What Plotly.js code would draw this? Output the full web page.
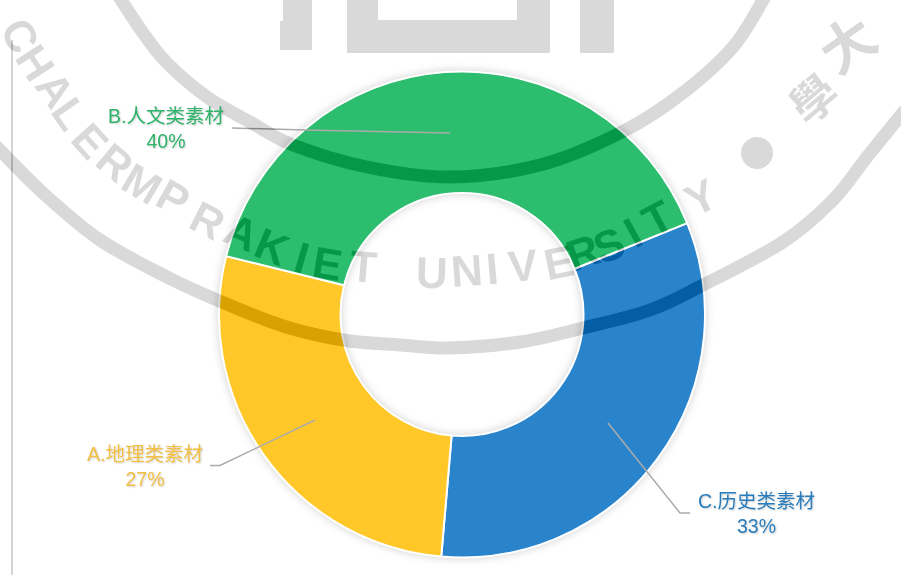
<!DOCTYPE html>
<html>
<head>
<meta charset="utf-8">
<script src="https://cdn.plot.ly/plotly-3.0.1.min.js"></script>
<style>
  html, body { margin: 0; padding: 0; background: #fff; }
  #myDiv { width: 901px; height: 575px; }
  .pielayer { filter: drop-shadow(0 0 4px rgba(0,0,0,0.18)); }
</style>
</head>
<body>
<div id="myDiv"></div>
<script>
var categories = ['C.历史类素材', 'A.地理类素材', 'B.人文类素材'];
var sliceValues = [32.5, 27.5, 40.0];
var percentLabels = ['33%', '27%', '40%'];
var sliceColors = ['#2A84CB', '#FFC727', '#2DBD6E'];
var textColors = ['#2A7DBD', '#F3BF45', '#2DB36A'];

// label centres and leader lines, in page pixels
var labelSpots = [[756, 513], [145, 466], [166, 129]];
var leaders = [
  [[608, 423], [680, 513], [690, 513]],
  [[315, 420], [220, 465.5], [210, 465.5]],
  [[450, 133], [305, 130], [232, 128]]
];

// watermark seal, blended over the chart afterwards
var WM = '#262626';
var upperRing = [[118, -5], [143, 33], [167, 63], [207, 97], [250, 122], [293, 145], [367, 167], [450, 177], [540, 165], [620, 133], [680, 95], [733, 47], [766, -5]];
var lowerRing = [[-5, 145], [43, 193], [100, 240], [167, 277], [217, 300], [283, 326], [343, 340], [400, 345], [450, 348], [520, 342], [583, 328], [650, 310], [703, 285], [783, 242], [833, 200], [867, 157], [905, 110]];
var logoBlocks = [
  'M283,0 L312,0 L312,50 L280,50 L280,21 L283,21 Z',
  'M347,0 L378,0 L378,20 L517,20 L517,0 L550,0 L550,53 L347,53 Z',
  'M580,0 L614,0 L614,53 L580,53 Z'
];
var sealLetters = 'CHALERMPRAKIETUNIVERSITY'.split('');
var letterSpots = [[20, 36], [35, 63], [55, 90], [70, 113], [90, 140], [115, 163], [142, 183], [173, 197], [208, 220], [242, 232], [272, 247], [302, 257], [327, 263], [363, 267], [432, 272], [467, 270], [492, 268], [523, 265], [558, 262], [583, 253], [608, 245], [633, 233], [657, 218], [700, 197]];

function px(x) { return x / 901; }
function py(y) { return 1 - y / 575; }

function smoothPath(pts) {
  var d = 'M' + px(pts[0][0]) + ',' + py(pts[0][1]);
  for (var i = 0; i < pts.length - 1; i++) {
    var p0 = pts[Math.max(i - 1, 0)], p1 = pts[i], p2 = pts[i + 1], p3 = pts[Math.min(i + 2, pts.length - 1)];
    d += ' C' + px(p1[0] + (p2[0] - p0[0]) / 6) + ',' + py(p1[1] + (p2[1] - p0[1]) / 6) +
      ' ' + px(p2[0] - (p3[0] - p1[0]) / 6) + ',' + py(p2[1] - (p3[1] - p1[1]) / 6) +
      ' ' + px(p2[0]) + ',' + py(p2[1]);
  }
  return d;
}

function blockPath(str) {
  return str.replace(/(-?[\d.]+),(-?[\d.]+)/g, function (m, x, y) {
    return px(+x) + ',' + py(+y);
  });
}

var shapes = [
  // left axis line
  {type: 'line', xref: 'paper', yref: 'paper', x0: px(12), x1: px(12), y0: py(40), y1: py(575),
   line: {color: '#d4d4d4', width: 2}, layer: 'below'}
];

leaders.forEach(function (pts) {
  var d = pts.map(function (p, i) { return (i ? 'L' : 'M') + px(p[0]) + ',' + py(p[1]); }).join(' ');
  shapes.push({type: 'path', xref: 'paper', yref: 'paper', path: d, layer: 'above',
    line: {color: '#ABABAB', width: 1.5}});
});

[upperRing, lowerRing].forEach(function (pts) {
  shapes.push({type: 'path', xref: 'paper', yref: 'paper', path: smoothPath(pts), layer: 'above',
    line: {color: WM, width: 13}});
});

logoBlocks.forEach(function (b) {
  shapes.push({type: 'path', xref: 'paper', yref: 'paper', path: blockPath(b), layer: 'above',
    fillcolor: WM, line: {width: 0}});
});

shapes.push({type: 'circle', xref: 'paper', yref: 'paper', layer: 'above',
  x0: px(741), x1: px(773), y0: py(169), y1: py(137), fillcolor: WM, line: {width: 0}});

var annotations = categories.map(function (c, i) {
  return {
    xref: 'paper', yref: 'paper', x: px(labelSpots[i][0]), y: py(labelSpots[i][1]),
    xanchor: 'center', yanchor: 'middle', showarrow: false,
    text: c + '<br>' + percentLabels[i],
    font: {family: '"Liberation Sans", "Noto Sans CJK SC", sans-serif', size: 19.5, color: textColors[i],
           shadow: '1px 1px 2px rgba(0,0,0,0.2)'}
  };
});

sealLetters.forEach(function (ch, i) {
  var a = letterSpots[Math.max(i - 1, 0)], b = letterSpots[Math.min(i + 1, letterSpots.length - 1)];
  annotations.push({
    xref: 'paper', yref: 'paper', x: px(letterSpots[i][0]), y: py(letterSpots[i][1]),
    xanchor: 'center', yanchor: 'middle', showarrow: false, text: ch,
    textangle: Math.atan2(b[1] - a[1], b[0] - a[0]) * 180 / Math.PI,
    font: {family: '"Liberation Sans Narrow", "Liberation Sans", sans-serif', size: 44, weight: 'bold', color: WM}
  });
});

annotations.push(
  {xref: 'paper', yref: 'paper', x: px(846), y: py(42), xanchor: 'center', yanchor: 'middle', showarrow: false,
   text: '大', textangle: -35, font: {family: '"Noto Sans CJK TC", sans-serif', size: 54, weight: 'bold', color: WM}},
  {xref: 'paper', yref: 'paper', x: px(812), y: py(97), xanchor: 'center', yanchor: 'middle', showarrow: false,
   text: '學', textangle: -40, font: {family: '"Noto Sans CJK TC", sans-serif', size: 46, weight: 'bold', color: WM}}
);

var data = [{
  type: 'pie',
  labels: categories,
  values: sliceValues,
  hole: 0.5,
  sort: false,
  direction: 'clockwise',
  rotation: 67.9,
  textinfo: 'none',
  marker: {colors: sliceColors, line: {color: '#ffffff', width: 2}},
  domain: {x: [px(219), px(705)], y: [py(558), py(71)]}
}];

var layout = {
  width: 901,
  height: 575,
  margin: {l: 0, r: 0, t: 0, b: 0},
  paper_bgcolor: '#ffffff',
  showlegend: false,
  shapes: shapes,
  annotations: annotations
};

Plotly.newPlot('myDiv', data, layout, {displayModeBar: false}).then(function () {
  // the seal subtracts a flat grey from whatever is under it
  var wmRgb = 'rgb(38, 38, 38)';
  document.querySelectorAll('.shapelayer path, .annotation-text').forEach(function (el) {
    var s = el.style;
    if (s.stroke === wmRgb || s.fill === wmRgb) {
      s.mixBlendMode = 'difference';
    }
  });
});
</script>
</body>
</html>
